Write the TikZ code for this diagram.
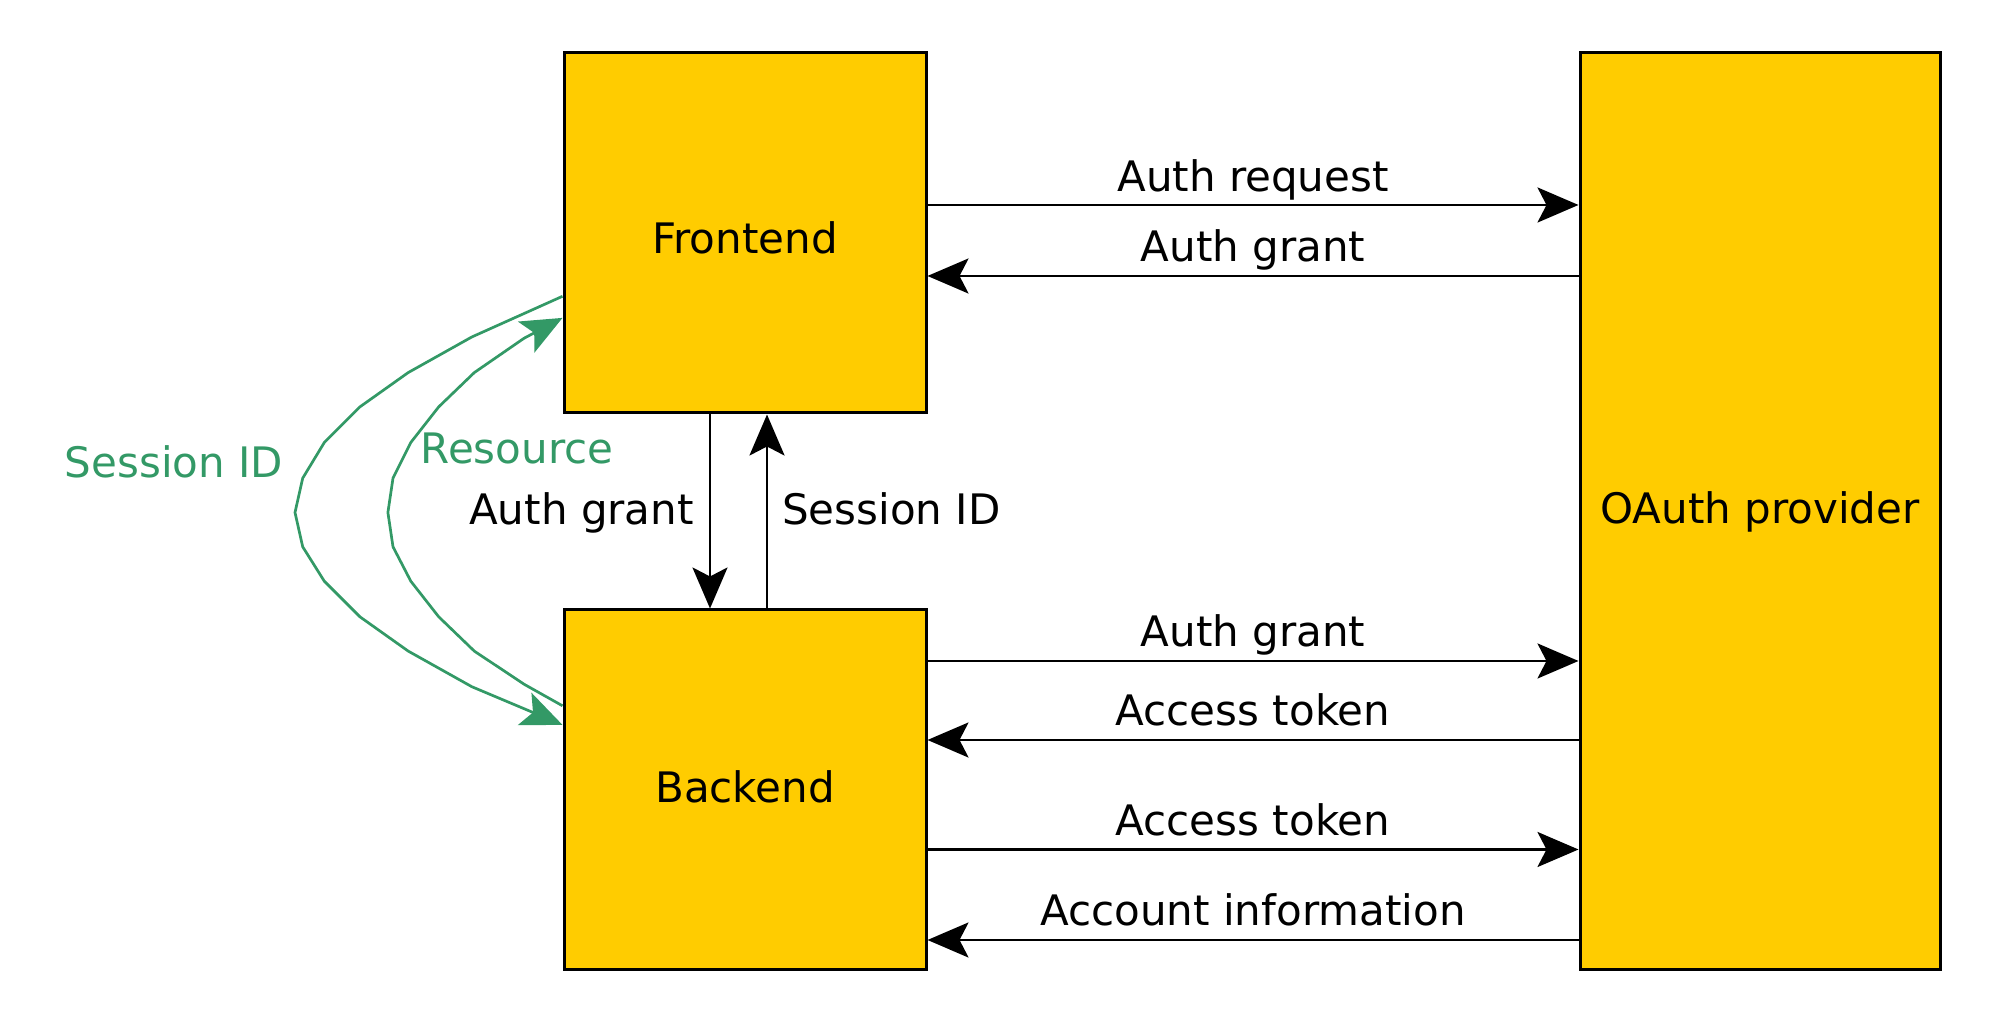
\documentclass[tikz,border=0pt]{standalone}
\usepackage{fontspec}
\setmainfont{DejaVu Sans}
\usetikzlibrary{arrows.meta}
\definecolor{boxfill}{HTML}{FFCC00}
\definecolor{grn}{HTML}{339966}
\begin{document}
\begin{tikzpicture}[x=1pt,y=1pt,
  box/.style={draw=black, line width=3pt, fill=boxfill, inner sep=0pt},
  lbl/.style={font=\fontsize{42}{50}\selectfont, inner sep=0pt},
  tipA/.style={-{Stealth[length=41pt,width=35pt,inset=9pt]}},
  arr/.style={line width=2.8pt, tipA},
  garr/.style={line width=2.7pt, draw=grn, tipA, line join=round}]
\useasboundingbox (0,0) rectangle (1994,1024);
\node[box, minimum width=362pt, minimum height=360pt] (F) at (745,791) {};
\node[box, minimum width=362pt, minimum height=360pt] (B) at (745,234) {};
\node[box, minimum width=360pt, minimum height=917pt] (O) at (1760,512.5) {};
\node[lbl] (Ft) at ([yshift=-5pt]F.center) {Frontend};
\node[lbl] (Bt) at ([yshift=3pt]B.center) {Backend};
\node[lbl] (Ot) at (O.center) {OAuth provider};
% horizontal arrows
\draw[arr] (F.east |- 0,819) -- (O.west |- 0,819);
\draw[arr] (O.west |- 0,748) -- (F.east |- 0,748);
\draw[arr] (B.east |- 0,363) -- (O.west |- 0,363);
\draw[arr] (O.west |- 0,284) -- (B.east |- 0,284);
\draw[arr] (B.east |- 0,174.5) -- (O.west |- 0,174.5);
\draw[arr] (O.west |- 0,84) -- (B.east |- 0,84);
\node[lbl, anchor=base] (l1) at (1253,832) {Auth request};
\node[lbl, anchor=base] (l2) at (1253,762) {Auth grant};
\node[lbl, anchor=base] (l3) at (1253,377) {Auth grant};
\node[lbl, anchor=base] (l4) at (1253,298) {Access token};
\node[lbl, anchor=base] (l5) at (1253,188) {Access token};
\node[lbl, anchor=base] (l6) at (1253,98) {Account information};
% vertical arrows
\draw[arr] (F.south -| 710,0) -- (B.north -| 710,0);
\draw[arr] (B.north -| 767,0) -- (F.south -| 767,0);
\node[lbl, anchor=base east] (l7) at (694,499) {Auth grant};
\node[lbl, anchor=base west] (l8) at (782,499) {Session ID};
% green curves
\draw[garr] (F.west |- 0,727.7) -- (471.8,687) -- (408.2,651.4) -- (359.9,617.1) -- (324.3,581.5) -- (302.7,545.8) -- (295,511.5) -- (302.7,477.2) -- (324.3,442.8) -- (359.9,407.2) -- (408.2,372.9) -- (471.8,337.3) -- (B.west |- 0,299.1);
\draw[garr] (B.west |- 0,318.2) -- (524,339.8) -- (474.3,372.9) -- (438.7,407.2) -- (410.8,442.8) -- (393,477.2) -- (387.9,511.5) -- (393,545.8) -- (410.8,581.5) -- (438.7,617.1) -- (474.3,651.4) -- (524,685.7) -- (F.west |- 0,706.1);
\node[lbl, text=grn, anchor=base] (g1) at (174,546) {Session ID};
\node[lbl, text=grn, anchor=base] (g2) at (517,560) {Resource};
\end{tikzpicture}
\end{document}
